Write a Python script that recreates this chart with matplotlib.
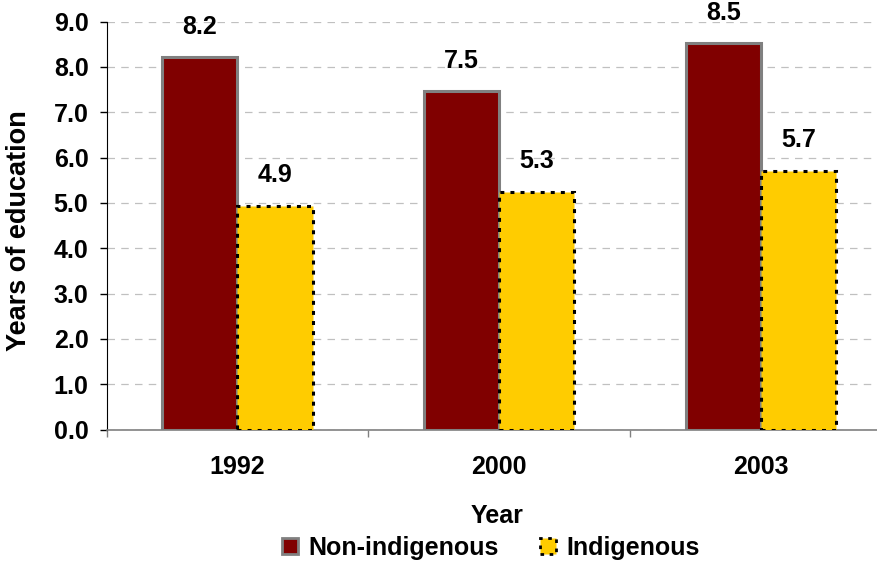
import matplotlib.pyplot as plt
import numpy as np
from matplotlib.patches import Patch

years = ['1992', '2000', '2003']
non_indigenous = [8.22, 7.46, 8.53]
indigenous = [4.93, 5.25, 5.71]
labels_non = ['8.2', '7.5', '8.5']
labels_ind = ['4.9', '5.3', '5.7']

plt.rcParams['font.family'] = 'Liberation Sans'
plt.rcParams['font.weight'] = 'bold'
FS = 18

fig = plt.figure(figsize=(8.78, 5.63), dpi=100)
ax = fig.add_axes([106.6/878, 133.5/563, 785.4/878, 408/563])

x = np.arange(len(years))
w = 0.287
dots = (0, (1.3, 2.0))
ax.bar(x - w/2, non_indigenous, w, color='#800000', edgecolor='#808080',
       linewidth=2.2, zorder=3)
ax.bar(x + w/2, indigenous, w, color='#FFCC00', edgecolor='black',
       linewidth=2.2, linestyle=dots, zorder=3)

for i in range(len(years)):
    ax.annotate(labels_non[i], (x[i] - w/2, non_indigenous[i]),
                xytext=(0, 16.5), textcoords='offset points', ha='center',
                va='baseline', fontsize=FS, fontweight='bold',
                annotation_clip=False)
    ax.annotate(labels_ind[i], (x[i] + w/2, indigenous[i]),
                xytext=(0, 17), textcoords='offset points', ha='center',
                va='baseline', fontsize=FS, fontweight='bold')

ax.set_xlim(-0.5, 2.5)
ax.set_ylim(0, 9)
yt = np.arange(0, 9.1, 1.0)
ax.set_yticks(yt)
ax.set_yticklabels(['%.1f' % v for v in yt], fontsize=FS, fontweight='bold')
ax.set_xticks(x)
ax.set_xticklabels(years, fontsize=FS, fontweight='bold')
ax.tick_params(axis='x', which='major', length=0, pad=18)
ax.set_xticks([-0.5, 0.5, 1.5, 2.5], minor=True)
ax.tick_params(axis='x', which='minor', length=5, width=1, direction='out',
               color='#808080')
ax.tick_params(axis='y', length=5, width=1, direction='out', pad=8)

ax.grid(axis='y', linestyle=(0, (6, 5)), color='#C0C0C0', linewidth=0.9,
        zorder=0)
for s in ['top', 'right']:
    ax.spines[s].set_visible(False)
ax.spines['bottom'].set_color('#808080')
ax.spines['bottom'].set_linewidth(1.2)
ax.spines['left'].set_color('black')

ax.set_ylabel('Years of education', fontsize=19.5, fontweight='bold')
ax.yaxis.set_label_coords(-0.095, 0.487)
ax.set_xlabel('Year', fontsize=FS, fontweight='bold')
ax.xaxis.set_label_coords(0.497, -0.182)

handles = [Patch(facecolor='#800000', edgecolor='#808080', linewidth=2),
           Patch(facecolor='#FFCC00', edgecolor='black', linewidth=2,
                 linestyle=dots)]
fig.legend(handles, ['Non-indigenous', 'Indigenous'], loc='center',
           bbox_to_anchor=(491/878, 1 - 548/563), ncol=2, frameon=False,
           prop={'size': FS, 'weight': 'bold'}, handlelength=0.64,
           handleheight=0.64, columnspacing=1.67, handletextpad=0.4,
           borderpad=0, borderaxespad=0)

fig.savefig('out.png', dpi=100)
